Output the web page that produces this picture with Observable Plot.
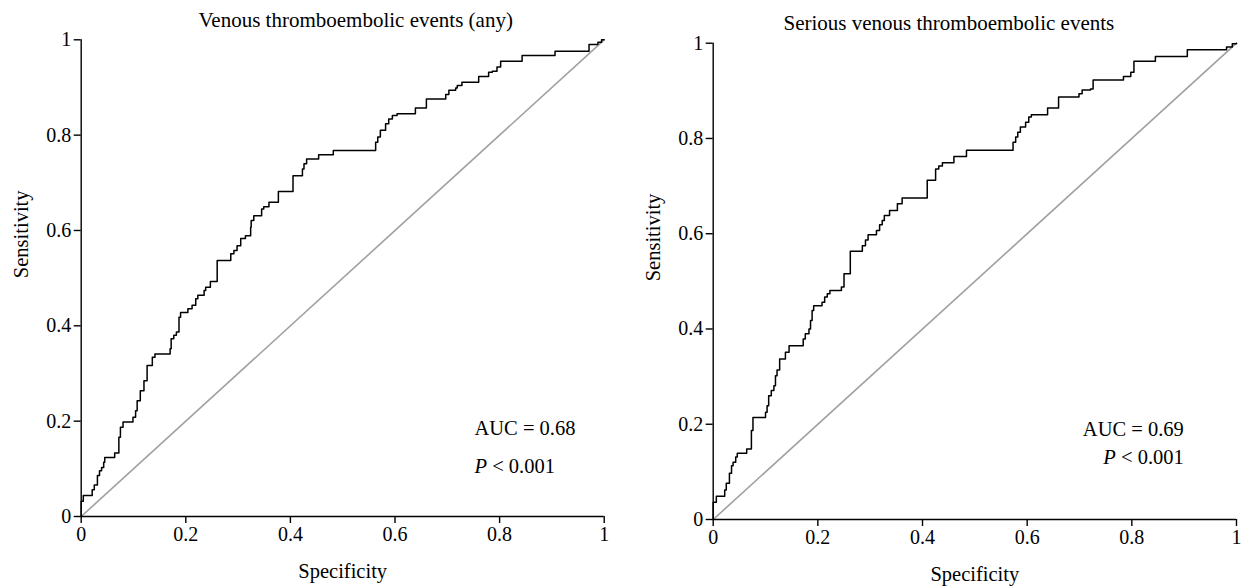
<!DOCTYPE html>
<html>
<head>
<meta charset="utf-8">
<script src="https://cdn.jsdelivr.net/npm/d3@7"></script>
<script src="https://cdn.jsdelivr.net/npm/@observablehq/plot@0.6"></script>
<style>
  html, body { margin: 0; padding: 0; background: #fff; }
  #chart { display: flex; width: 1242px; height: 588px; }
  svg { overflow: visible; }
</style>
</head>
<body>
<div id="chart"></div>
<script>
// ---- Data ----
const ticks = [0, 0.2, 0.4, 0.6, 0.8, 1];
const tickLabels = ["0", "0.2", "0.4", "0.6", "0.8", "1"];

const diagX = [0, 1];
const diagY = [0, 1];

const leftTitle = "Venous thromboembolic events (any)";
const leftAUC = "AUC = 0.68";
const leftP = "P < 0.001";
const leftFpr = [0, 0, 0.004, 0.021, 0.025, 0.031, 0.035, 0.039, 0.043, 0.045, 0.064, 0.072, 0.075, 0.080, 0.099, 0.104, 0.107, 0.113, 0.120, 0.126, 0.136, 0.141, 0.170, 0.172, 0.177, 0.182, 0.187, 0.190, 0.204, 0.212, 0.219, 0.223, 0.235, 0.238, 0.247, 0.260, 0.286, 0.292, 0.298, 0.305, 0.314, 0.324, 0.325, 0.330, 0.345, 0.349, 0.359, 0.377, 0.405, 0.423, 0.426, 0.431, 0.454, 0.482, 0.563, 0.567, 0.572, 0.582, 0.588, 0.595, 0.604, 0.639, 0.660, 0.697, 0.703, 0.716, 0.719, 0.728, 0.760, 0.779, 0.786, 0.795, 0.802, 0.843, 0.906, 0.971, 0.988, 0.995, 1];
const leftSens = [0, 0.032, 0.044, 0.056, 0.066, 0.086, 0.096, 0.103, 0.114, 0.124, 0.133, 0.166, 0.187, 0.198, 0.208, 0.222, 0.243, 0.264, 0.285, 0.317, 0.334, 0.341, 0.352, 0.373, 0.380, 0.387, 0.418, 0.428, 0.436, 0.443, 0.457, 0.464, 0.474, 0.481, 0.493, 0.537, 0.551, 0.558, 0.568, 0.583, 0.589, 0.607, 0.621, 0.631, 0.645, 0.650, 0.659, 0.682, 0.715, 0.729, 0.740, 0.750, 0.759, 0.768, 0.785, 0.796, 0.810, 0.824, 0.834, 0.841, 0.845, 0.857, 0.876, 0.885, 0.894, 0.899, 0.904, 0.911, 0.923, 0.932, 0.934, 0.943, 0.955, 0.967, 0.976, 0.990, 0.995, 1, 1];

const rightTitle = "Serious venous thromboembolic events";
const rightAUC = "AUC = 0.69";
const rightP = "P < 0.001";
const rightFpr = [0, 0, 0.006, 0.022, 0.025, 0.031, 0.035, 0.038, 0.043, 0.046, 0.064, 0.073, 0.076, 0.100, 0.103, 0.106, 0.111, 0.116, 0.119, 0.122, 0.127, 0.138, 0.145, 0.172, 0.176, 0.183, 0.186, 0.189, 0.192, 0.208, 0.213, 0.218, 0.223, 0.245, 0.250, 0.262, 0.285, 0.291, 0.296, 0.312, 0.318, 0.323, 0.327, 0.337, 0.352, 0.361, 0.409, 0.425, 0.431, 0.438, 0.460, 0.484, 0.573, 0.578, 0.582, 0.587, 0.597, 0.603, 0.608, 0.639, 0.660, 0.699, 0.705, 0.721, 0.726, 0.784, 0.798, 0.804, 0.845, 0.906, 0.981, 0.992, 1];
const rightSens = [0, 0.036, 0.049, 0.062, 0.076, 0.097, 0.113, 0.120, 0.131, 0.139, 0.148, 0.187, 0.214, 0.225, 0.239, 0.260, 0.271, 0.281, 0.302, 0.314, 0.337, 0.351, 0.365, 0.379, 0.390, 0.400, 0.418, 0.439, 0.449, 0.456, 0.467, 0.474, 0.481, 0.488, 0.516, 0.563, 0.575, 0.587, 0.598, 0.607, 0.619, 0.628, 0.638, 0.649, 0.663, 0.675, 0.712, 0.736, 0.742, 0.749, 0.762, 0.775, 0.792, 0.803, 0.813, 0.824, 0.834, 0.845, 0.850, 0.864, 0.887, 0.894, 0.902, 0.904, 0.923, 0.930, 0.939, 0.962, 0.972, 0.986, 0.992, 0.999, 1];

// ---- Drawing ----
const FONT = "'Liberation Serif', 'Times New Roman', serif";

function panel(cfg) {
  const roc = cfg.fpr.map((x, i) => ({x, y: cfg.sens[i]}));
  const diag = diagX.map((x, i) => ({x, y: diagY[i]}));
  const fmt = d => tickLabels[ticks.indexOf(d)];
  const svg = Plot.plot({
    width: cfg.width,
    height: 588,
    marginLeft: cfg.ml,
    marginRight: cfg.mr,
    marginTop: cfg.mt,
    marginBottom: cfg.mb,
    style: {fontFamily: FONT, fontSize: "20px", color: "#000", background: "#fff", overflow: "visible"},
    x: {domain: [0, 1]},
    y: {domain: [0, 1]},
    marks: [
      Plot.line(diag, {x: "x", y: "y", stroke: "#a0a0a0", strokeWidth: 1.6}),
      Plot.line(roc, {x: "x", y: "y", curve: "step-after", stroke: "#000", strokeWidth: 1.5}),
      Plot.ruleY([0], {x1: 0, x2: 1, stroke: "#000", strokeWidth: 1.4}),
      Plot.ruleX([0], {y1: 0, y2: 1, stroke: "#000", strokeWidth: 1.4}),
      Plot.axisX({ticks, tickFormat: fmt, tickSize: 7, tickPadding: 3, label: null, strokeWidth: 1.4, fontSize: 20}),
      Plot.axisY({ticks, tickFormat: fmt, tickSize: 7, tickPadding: 3, label: null, strokeWidth: 1.4, fontSize: 20}),
      Plot.text([cfg.title], {text: d => d, frameAnchor: "top", lineAnchor: "bottom", dx: cfg.titleDx, dy: cfg.titleDy, fontSize: 21}),
      Plot.text(["Specificity"], {text: d => d, frameAnchor: "bottom", lineAnchor: "bottom", dy: cfg.xlabDy, fontSize: 20.5}),
      Plot.text(["Sensitivity"], {text: d => d, frameAnchor: "left", lineAnchor: "bottom", rotate: -90, dx: -53, fontSize: 20.5}),
      Plot.text([cfg.auc], {text: d => d, frameAnchor: cfg.annAnchor, textAnchor: cfg.annText, lineAnchor: "bottom", dx: cfg.annDx, dy: cfg.aucDy, fontSize: 20.5}),
      Plot.text([cfg.p], {text: d => d, frameAnchor: cfg.annAnchor, textAnchor: cfg.annText, lineAnchor: "bottom", dx: cfg.annDx, dy: cfg.pDy, fontSize: 20.5})
    ]
  });
  // italic P in the p-value annotation
  d3.select(svg).selectAll("text").filter(function() { return this.textContent === cfg.p; })
    .each(function() {
      const t = d3.select(this);
      t.text(null);
      t.append("tspan").attr("font-style", "italic").text("P");
      t.append("tspan").text(" < 0.001");
    });
  return svg;
}

const chart = document.getElementById("chart");
chart.appendChild(panel({
  width: 621, ml: 80.7, mr: 17.3, mt: 39.3, mb: 72,
  fpr: leftFpr, sens: leftSens, title: leftTitle, titleDx: 13, titleDy: -13.3,
  xlabDy: 61, auc: leftAUC, p: leftP,
  annAnchor: "bottom-left", annText: "start", annDx: 393.3, aucDy: -82, pDy: -44
}));
chart.appendChild(panel({
  width: 621, ml: 91.7, mr: 6, mt: 42.7, mb: 69,
  fpr: rightFpr, sens: rightSens, title: rightTitle, titleDx: -26, titleDy: -13.4,
  xlabDy: 61, auc: rightAUC, p: rightP,
  annAnchor: "bottom-right", annText: "end", annDx: -52.7, aucDy: -83.3, pDy: -55.7
}));
</script>
</body>
</html>
